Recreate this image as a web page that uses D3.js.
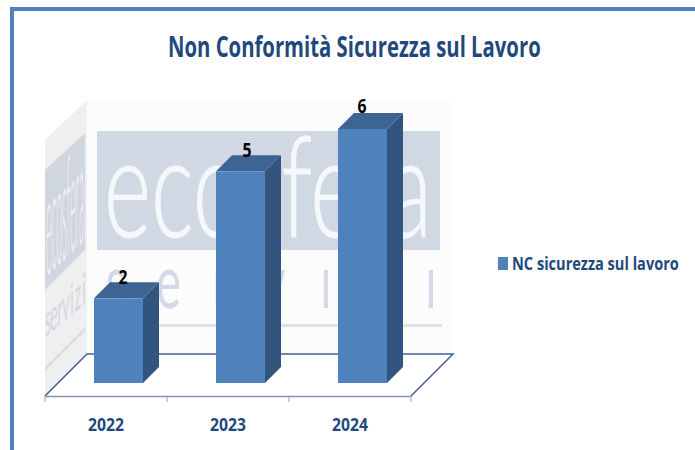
<!DOCTYPE html>
<html><head><meta charset="utf-8">
<script src="https://cdnjs.cloudflare.com/ajax/libs/d3/7.8.5/d3.min.js"></script>
<style>html,body{margin:0;background:#fff}svg{display:block}text{font-family:"Open Sans",sans-serif}</style>
</head><body><svg id="c" width="695" height="450"></svg>
<script>
const categories = ["2022","2023","2024"];
const values = [2,5,6];
const seriesName = "NC sicurezza sul lavoro";
const chartTitle = "Non Conformità Sicurezza sul Lavoro";
const watermarkWord = "ecosfera";
const watermarkSub = ["s","e","r","v","i","z","i"];

const svg = d3.select("#c");
const NAVY="#1f497d", FRONT="#4f81bd", TOP="#3e6494", SIDE="#33547f", FRAME="#4f81bd";
const LIGHT="Lato, 'Open Sans', sans-serif";
const x = d3.scaleBand().domain(categories).range([45,411]);
const y = d3.scaleLinear().domain([0,6]).range([383,129]);
const depth=16, barW=49, barOff=49;
const labelOff=[29,31,24], labelGap=[14,14,16];

// Squeeze a text horizontally to a given width, anchored at (px,py)
function fit(sel, px, py, w, anchor){
  sel.each(function(){
    const len=this.getComputedTextLength(), k=w/len;
    const tx = anchor==="middle" ? px-w/2 : px;
    d3.select(this).attr("x",null).attr("y",null).attr("dy",null).attr("text-anchor","start")
      .attr("transform",`translate(${tx},${py}) scale(${k},1)`);
  });
  return sel;
}

const defs = svg.append("defs");
defs.append("clipPath").attr("id","subClip").append("rect").attr("x",97).attr("y",262).attr("width",345).attr("height",60);
defs.append("clipPath").attr("id","sideClip").append("path").attr("d","M45,396L87,354V100L45,140Z");

// frame
svg.append("path").attr("d","M12,450V9H695").attr("fill","none").attr("stroke",FRAME).attr("stroke-width",4);

// walls
svg.append("rect").attr("x",87).attr("y",100).attr("width",366).attr("height",254).attr("fill","#fcfcfd");
svg.append("path").attr("d","M45,396L87,354V100L45,140Z").attr("fill","#efefef");

// watermark back wall
svg.append("rect").attr("x",97).attr("y",131).attr("width",343).attr("height",119).attr("fill","#d0d8e4");
svg.append("text").text(watermarkWord)
  .attr("font-size",140).attr("font-weight",300).attr("fill","#f5f7fa")
  .attr("stroke","#f5f7fa").attr("stroke-width",1.2)
  .style("font-family",LIGHT).call(fit,104,237,328);
const subX = d3.scalePoint().domain(d3.range(watermarkSub.length)).range([116,431]);
svg.append("g").attr("clip-path","url(#subClip)")
  .selectAll("text").data(watermarkSub).join("text")
  .text(d=>d).attr("transform",(d,i)=>`translate(${subX(i)},308) scale(0.62,1)`).attr("text-anchor","middle")
  .attr("font-size",76).attr("font-weight",400).attr("fill","#d3dae6")
  .style("font-family",LIGHT);
svg.append("rect").attr("x",97).attr("y",324).attr("width",345).attr("height",3).attr("fill","#dde2eb");

// watermark side wall
const side = svg.append("g").attr("clip-path","url(#sideClip)");
side.append("path").attr("d","M45,170L85,133V250L45,290Z").attr("fill","#d0d6df");
side.append("path").attr("d","M45,367L85,327V331L45,371Z").attr("fill","#dadfe7");
const sideWord = side.append("text").text(watermarkWord)
  .attr("font-size",140).attr("font-weight",300).attr("fill","#eef0f4")
  .style("font-family",LIGHT);
const swk = 38/sideWord.node().getComputedTextLength();
sideWord.attr("transform",`matrix(${swk},${-0.95*swk},0,1,46,277)`);
const sideSubX = d3.scalePoint().domain(d3.range(watermarkSub.length)).range([48,84]);
side.selectAll("text.ss").data(watermarkSub).join("text").attr("class","ss")
  .text(d=>d).attr("text-anchor","middle")
  .attr("transform",(d,i)=>`matrix(0.32,-0.27,0,1,${sideSubX(i)},${335-(sideSubX(i)-48)*0.85})`)
  .attr("font-size",44).attr("font-weight",400).attr("fill","#d3d8e0")
  .style("font-family",LIGHT);

// floor
svg.append("path").attr("d","M45,396L87,354H453L411,396").attr("fill","#fff")
  .attr("stroke","#3f6390").attr("stroke-width",1.5);

// axis
const axisG = svg.append("g").attr("transform","translate(0,396)")
  .call(d3.axisBottom(x).tickSize(0).tickPadding(0));
axisG.select(".domain").attr("stroke","#8793a8").attr("stroke-width",1.5);
axisG.selectAll("text").attr("font-size",18).attr("font-weight",700).attr("fill",NAVY)
  .each(function(){ fit(d3.select(this),0,35,36,"middle"); });
const edges = categories.map(c=>x(c)).concat(x.range()[1]);
svg.selectAll("line.t").data(edges).join("line").attr("class","t")
  .attr("x1",d=>d).attr("x2",d=>d).attr("y1",396).attr("y2",402)
  .attr("stroke","#9aa3b2").attr("stroke-width",1);

// bars
const bars = svg.selectAll("g.bar").data(categories.map((c,i)=>({c,v:values[i],i}))).join("g").attr("class","bar");
const bx = d=>x(d.c)+barOff;
bars.append("path").attr("fill",SIDE)
  .attr("d",d=>`M${bx(d)+barW},${y(d.v)}l${depth},${-depth}V${y(0)-depth}l${-depth},${depth}Z`);
bars.append("path").attr("fill",TOP)
  .attr("d",d=>`M${bx(d)},${y(d.v)}l${depth},${-depth}h${barW}l${-depth},${depth}Z`);
bars.append("rect").attr("fill",FRONT).attr("x",bx).attr("y",d=>y(d.v)).attr("width",barW).attr("height",d=>y(0)-y(d.v));
bars.append("text").text(d=>d.v)
  .attr("font-size",20).attr("font-weight",700).attr("fill","#000")
  .each(function(d){ fit(d3.select(this),bx(d)+labelOff[d.i],y(d.v)-labelGap[d.i],9,"middle"); });

// title
svg.append("text").text(chartTitle)
  .attr("font-size",28).attr("font-weight",700).attr("fill",NAVY)
  .call(fit,354.5,57,373,"middle");

// legend
svg.append("rect").attr("x",498).attr("y",257).attr("width",10).attr("height",13).attr("fill",FRONT);
svg.append("text").text(seriesName)
  .attr("font-size",18).attr("font-weight",700).attr("fill",NAVY)
  .call(fit,512,270,167);
</script></body></html>
